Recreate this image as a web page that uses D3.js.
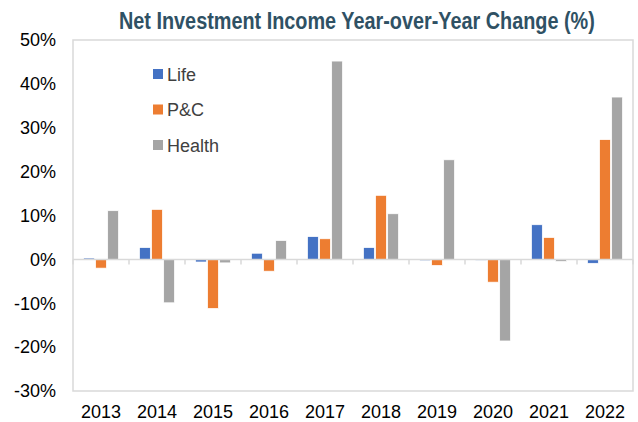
<!DOCTYPE html>
<html>
<head>
<meta charset="utf-8">
<script src="https://cdn.jsdelivr.net/npm/d3@7"></script>
<style>
  body { margin: 0; background: #fff; }
  svg text { font-family: 'Liberation Sans', Arial, sans-serif; }
</style>
</head>
<body>
<svg id="viz"></svg>
<script>
// chart data
var years = ['2013', '2014', '2015', '2016', '2017', '2018', '2019', '2020', '2021', '2022'];
var seriesNames = ['Life', 'P&C', 'Health'];
var life   = [0.3, 2.7, -0.6, 1.4, 5.2, 2.7, -0.3, -0.2, 7.9, -0.9];
var pc     = [-2.0, 11.4, -11.2, -2.7, 4.7, 14.6, -1.4, -5.2, 5.0, 27.3];
var health = [11.1, -9.9, -0.8, 4.3, 45.2, 10.4, 22.7, -18.6, -0.5, 37.0];
var yTicks = [-30, -20, -10, 0, 10, 20, 30, 40, 50];
var colors = ['#4472C4', '#ED7D31', '#A5A5A5'];

var width = 638, height = 422;
var margin = { top: 40, right: 5, bottom: 31, left: 73 };
var drawWidth = width - margin.left - margin.right;
var drawHeight = height - margin.top - margin.bottom;

var svg = d3.select('#viz')
            .attr('width', width)
            .attr('height', height);

// title - bold, squeezed horizontally like a narrow face
var titleG = svg.append('g');
var title = titleG.append('text')
   .attr('x', 0)
   .attr('y', 0)
   .style('font-weight', 'bold')
   .style('font-size', '23px')
   .attr('fill', '#2F5164')
   .text('Net Investment Income Year-over-Year Change (%)');
var natural = title.node().getComputedTextLength();
titleG.attr('transform', `translate(119, 29) scale(${476 / natural}, 1)`);

var g = svg.append('g')
           .attr('transform', `translate(${margin.left}, ${margin.top})`);

var xScale = d3.scaleBand()
               .domain(years)
               .range([0, drawWidth])
               .paddingInner(0.33)
               .paddingOuter(0.165);

var x1 = d3.scaleBand()
           .domain(seriesNames)
           .range([0, xScale.bandwidth()])
           .padding(0.1);

var yScale = d3.scaleLinear()
               .domain([-30, 50])
               .range([drawHeight, 0]);

// plot border
g.append('rect')
 .attr('x', 0).attr('y', 0)
 .attr('width', drawWidth).attr('height', drawHeight)
 .attr('fill', 'none')
 .attr('stroke', '#D9D9D9')
 .attr('stroke-width', 1.5);

// y axis labels
var yAxis = d3.axisLeft(yScale)
              .tickValues(yTicks)
              .tickSize(0)
              .tickPadding(17)
              .tickFormat(d => d + '%');
var yG = g.append('g').call(yAxis);
yG.select('.domain').remove();
yG.selectAll('text')
  .style('font-size', '18px')
  .attr('fill', '#000');

// bars
var allSeries = [life, pc, health];
var groups = g.selectAll('.grp')
              .data(years)
              .enter()
              .append('g')
              .attr('class', 'grp')
              .attr('transform', d => `translate(${xScale(d)},0)`);

groups.selectAll('rect')
      .data((d, i) => seriesNames.map((s, j) => ({ s: s, v: allSeries[j][i], c: colors[j] })))
      .enter()
      .append('rect')
      .attr('x', d => x1(d.s))
      .attr('width', x1.bandwidth())
      .attr('y', d => yScale(Math.max(0, d.v)))
      .attr('height', d => Math.abs(yScale(d.v) - yScale(0)))
      .attr('fill', d => d.c)
      .attr('stroke', '#fff')
      .attr('stroke-width', 0.75);

// zero axis with category ticks
var bandStep = xScale.step();
g.append('line')
 .attr('x1', 0).attr('x2', drawWidth)
 .attr('y1', yScale(0)).attr('y2', yScale(0))
 .attr('stroke', '#D9D9D9')
 .attr('stroke-width', 1.5);
g.selectAll('.cat-tick')
 .data(d3.range(years.length + 1))
 .enter()
 .append('line')
 .attr('class', 'cat-tick')
 .attr('x1', i => i * bandStep).attr('x2', i => i * bandStep)
 .attr('y1', yScale(0)).attr('y2', yScale(0) + 5)
 .attr('stroke', '#D9D9D9')
 .attr('stroke-width', 1.5);

// x labels
g.selectAll('.xlab')
 .data(years)
 .enter()
 .append('text')
 .attr('class', 'xlab')
 .attr('x', d => xScale(d) + xScale.bandwidth() / 2)
 .attr('y', drawHeight + 27)
 .attr('text-anchor', 'middle')
 .style('font-size', '18px')
 .attr('fill', '#000')
 .text(d => d);

// legend
var legend = svg.append('g')
                .attr('transform', 'translate(153, 69)');
var li = legend.selectAll('g')
               .data(seriesNames)
               .enter()
               .append('g')
               .attr('transform', (d, i) => `translate(0, ${i * 35.5})`);
li.append('rect')
  .attr('width', 10).attr('height', 10)
  .attr('fill', (d, i) => colors[i]);
li.append('text')
  .attr('x', 14)
  .attr('y', 11.5)
  .style('font-size', '18px')
  .attr('fill', '#404040')
  .text(d => d);
</script>
</body>
</html>
